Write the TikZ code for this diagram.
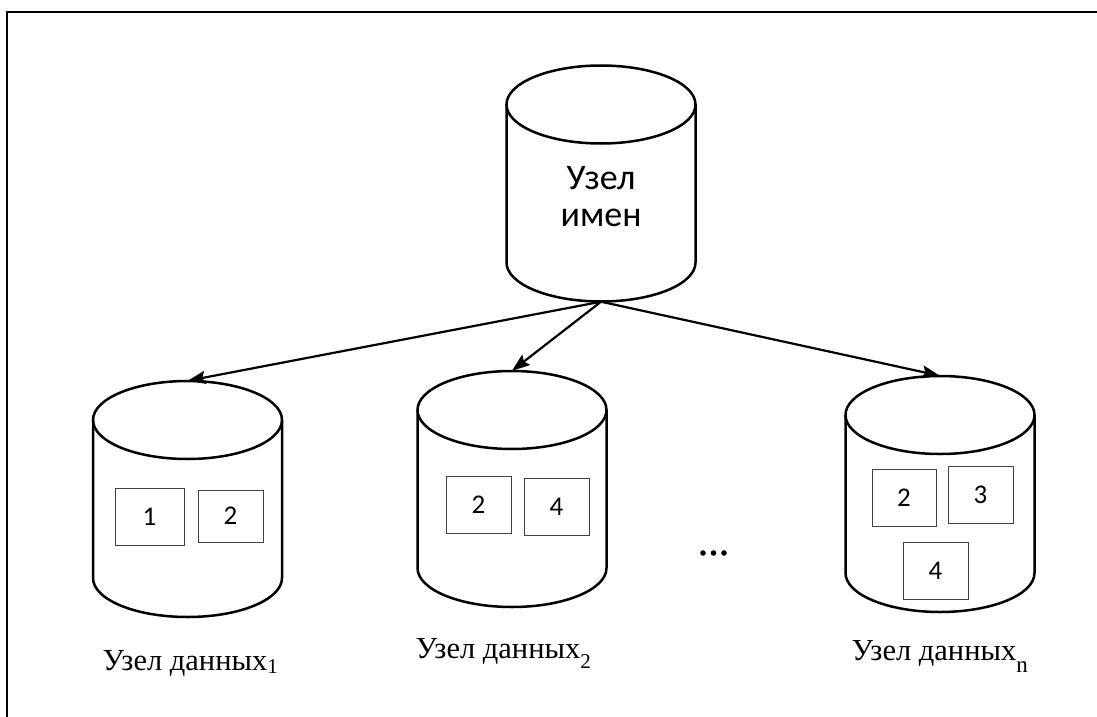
\documentclass[tikz,border=0pt]{standalone}
\usepackage{fontspec}
\setmainfont{Liberation Serif}
\newfontfamily\calib{Carlito}
\usetikzlibrary{arrows.meta}

% storage drum: named bounding node plus cylinder outline
\newcommand\drawdrum[3]{%
  \node[drum] (#1) at (#2,#3) {};
  \draw[drumline] (#2,#3) ++(-94.5,-79) -- ++(0,158)
    arc[start angle=180,end angle=0,x radius=94.5,y radius=39] -- ++(0,-158);
  \draw[drumline] (#2,#3) ++(0,-79) ellipse[x radius=94.5,y radius=39];
}

\begin{document}
\begin{tikzpicture}[x=1pt,y=-1pt,
  drum/.style={minimum width=189pt,minimum height=236pt,inner sep=0pt,draw=none},
  drumline/.style={line width=2.5pt,black},
  block/.style={draw=black!75,line width=0.9pt,inner sep=0pt,font=\calib\fontsize{27}{30}\selectfont},
  link/.style={line width=2.2pt,-{Stealth[length=18pt,width=13pt,inset=3pt]}},
  lbl/.style={anchor=base west,font=\fontsize{30.5}{34}\selectfont}]
\useasboundingbox (0,0) rectangle (1097,717);

% frame edges
\draw[line width=1.5pt] (7,717) -- (7,12) -- (1097,12);

% name node
\drawdrum{nn}{601}{183.5}
\node[font=\calib\fontsize{36}{37}\selectfont,align=center] (nnlabel) at (601,196.5) {Узел\\имен};

% data nodes
\drawdrum{d1}{187.5}{499}
\drawdrum{d2}{512}{489}
\drawdrum{dn}{940}{494}

% replication links
\draw[link] (nn.south) -- (d1.north);
\draw[link] (nn.south) -- (d2.north);
\draw[link] (nn.south) -- (dn.north);

% blocks held by each data node
\node[block,minimum width=69pt,minimum height=57pt] (b11) at (149.5,516.5) {1};
\node[block,minimum width=65pt,minimum height=52pt] (b12) at (230.5,516) {2};
\node[block,minimum width=65pt,minimum height=57pt] (b22) at (478.5,504.5) {2};
\node[block,minimum width=65pt,minimum height=57pt] (b24) at (556.5,506.5) {4};
\node[block,minimum width=64pt,minimum height=57pt] (bn2) at (904,497.5) {2};
\node[block,minimum width=65pt,minimum height=57pt] (bn3) at (980.5,494.5) {3};
\node[block,minimum width=65pt,minimum height=57pt] (bn4) at (935.5,570.5) {4};

% ellipsis between data nodes
\fill (703,553) circle (2.8) (713.5,553) circle (2.8) (724,553) circle (2.8);

% captions
\node[lbl] (l1) at (99,670) {Узел данных\raisebox{-3pt}{\fontsize{21}{22}\selectfont 1}};
\node[lbl] (l2) at (412,658) {Узел данных\raisebox{-10pt}{\fontsize{21}{22}\selectfont 2}};
\node[lbl] (ln) at (848,660) {Узел данных\raisebox{-12pt}{\fontsize{23}{24}\selectfont n}};
\end{tikzpicture}
\end{document}
